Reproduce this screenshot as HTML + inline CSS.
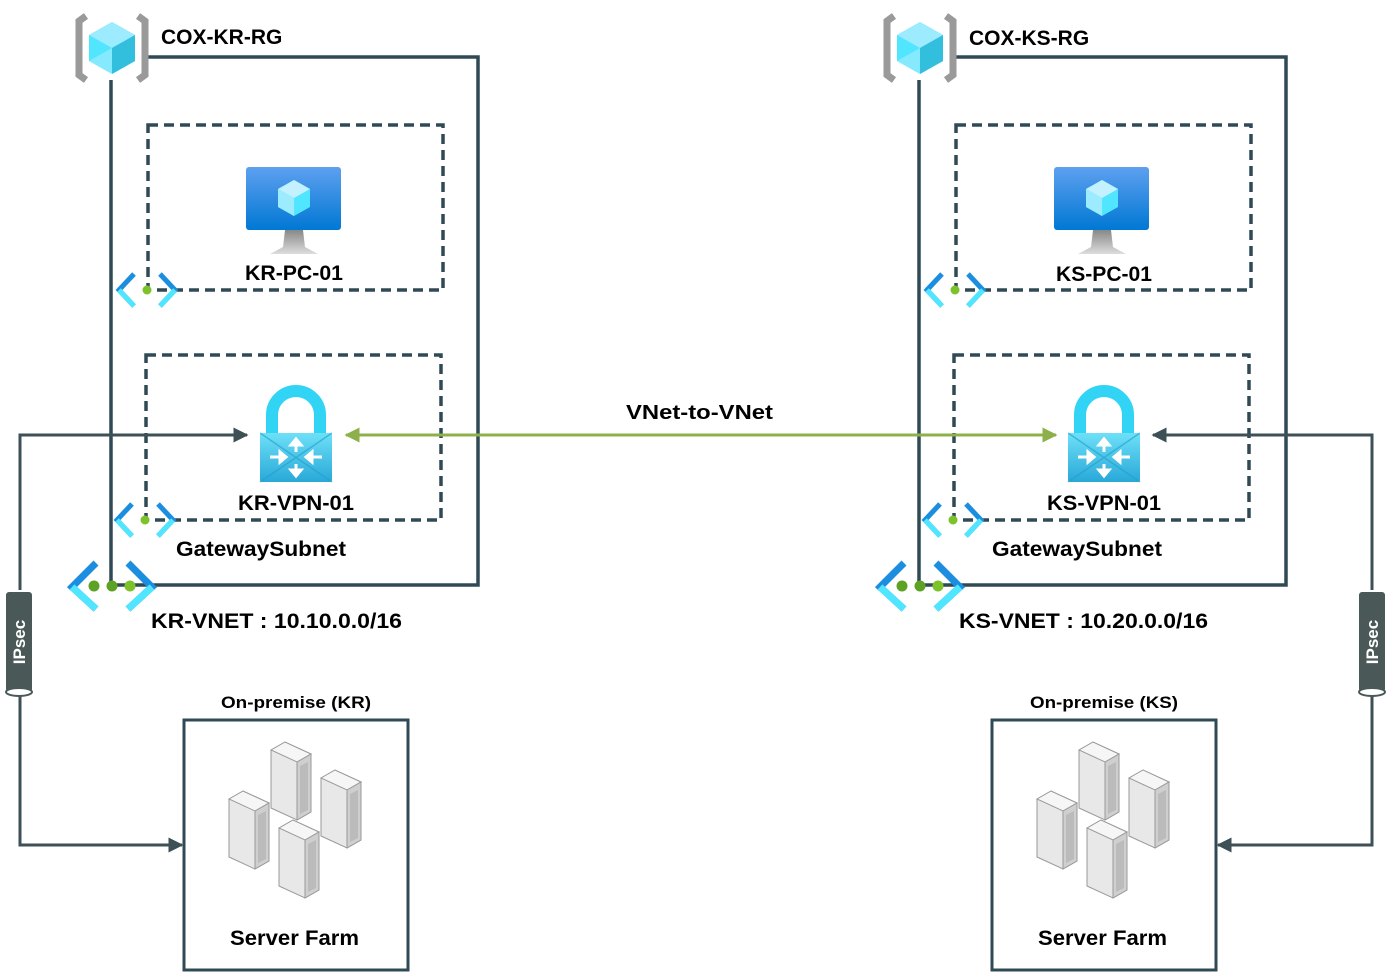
<!DOCTYPE html>
<html><head><meta charset="utf-8"><style>
html,body{margin:0;padding:0;background:#fff;}
svg{display:block;}
text{font-family:"Liberation Sans",sans-serif;font-weight:bold;fill:#000;}
</style></head><body>
<svg width="1389" height="977" viewBox="0 0 1389 977" xmlns="http://www.w3.org/2000/svg">
<defs>
<linearGradient id="mon" x1="0" y1="0" x2="0" y2="1"><stop offset="0" stop-color="#5ea0ef"/><stop offset="1" stop-color="#0078d4"/></linearGradient>
<linearGradient id="stand" x1="0" y1="0" x2="0" y2="1"><stop offset="0" stop-color="#888"/><stop offset="1" stop-color="#ddd"/></linearGradient>
<linearGradient id="lockb" x1="0" y1="0" x2="0" y2="1"><stop offset="0" stop-color="#6ee0f8"/><stop offset="1" stop-color="#29a8d8"/></linearGradient>
<marker id="ad" viewBox="0 0 10 10" refX="9" refY="5" markerWidth="5" markerHeight="5" orient="auto-start-reverse"><path d="M0,0 L10,5 L0,10 z" fill="#3d5055"/></marker>
<marker id="ag" viewBox="0 0 10 10" refX="9" refY="5" markerWidth="5" markerHeight="5" orient="auto-start-reverse"><path d="M0,0 L10,5 L0,10 z" fill="#8db04a"/></marker>
<g id="rgicon">
  <path d="M86,16 L79,21 L79,75 L86,80" fill="none" stroke="#9a9a9a" stroke-width="7"/>
  <path d="M138,16 L145,21 L145,75 L138,80" fill="none" stroke="#9a9a9a" stroke-width="7"/>
  <path d="M112,22 L135,35 L135,61 L112,74 L89,61 L89,35 z" fill="#50e6ff"/>
  <path d="M112,22 L135,35 L112,48 L89,35 z" fill="#9cebff"/>
  <path d="M112,48 L135,35 L135,61 L112,74 z" fill="#32bedd"/>
  <path d="M112,48 L112,74 L89,61 z" fill="#9cebff" opacity="0.7"/>
</g>
<g id="vm">
  <rect x="246" y="167" width="95" height="63" rx="3" fill="url(#mon)"/>
  <path d="M285,230 L303,230 L305,247 L318,254 L270,254 L283,247 z" fill="url(#stand)"/>
  <path d="M294,180 L310,189 L310,207 L294,216 L278,207 L278,189 z" fill="#50e6ff"/>
  <path d="M294,180 L310,189 L294,198 L278,189 z" fill="#c3f1ff"/>
  <path d="M294,198 L294,216 L278,207 L278,189 z" fill="#9cebff"/>
</g>
<g id="lock">
  <path d="M272,434 L272,415 A24,24 0 0 1 320,415 L320,434" fill="none" stroke="#32d4f5" stroke-width="12"/>
  <rect x="260" y="433" width="72" height="49" rx="2" fill="url(#lockb)"/>
  <path d="M260,433 L332,482 M332,433 L260,482" stroke="#1fa0cc" stroke-width="1.5" opacity="0.6"/>
  <g stroke="#fff" stroke-width="3" fill="#fff">
    <path d="M296,441 L296,452"/><path d="M291,445 L296,439 L301,445 z"/>
    <path d="M296,464 L296,474"/><path d="M291,470 L296,476 L301,470 z"/>
    <path d="M270,457 L282,457"/><path d="M280,452 L286,457 L280,462 z"/>
    <path d="M310,457 L322,457"/><path d="M312,452 L306,457 L312,462 z"/>
  </g>
</g>
<g id="sub">
  <path d="M-13,-16 L-28,0 L-13,16" fill="none" stroke="#1b8ee0" stroke-width="5"/>
  <path d="M-28,0 L-13,16" fill="none" stroke="#50e6ff" stroke-width="5"/>
  <path d="M13,-16 L28,0 L13,16" fill="none" stroke="#1b8ee0" stroke-width="5"/>
  <path d="M28,0 L13,16" fill="none" stroke="#50e6ff" stroke-width="5"/>
  <circle cx="0" cy="0" r="4.5" fill="#7cc22b"/>
</g>
<g id="vnet">
  <path d="M96,563 L72,587 L96,609" fill="none" stroke="#1b8ee0" stroke-width="7"/>
  <path d="M72,587 L96,609" fill="none" stroke="#50e6ff" stroke-width="7"/>
  <path d="M128,563 L152,587 L128,609" fill="none" stroke="#1b8ee0" stroke-width="7"/>
  <path d="M152,587 L128,609" fill="none" stroke="#50e6ff" stroke-width="7"/>
  <circle cx="94" cy="586" r="5.5" fill="#5ea225"/>
  <circle cx="112" cy="586" r="5.5" fill="#5ea225"/>
  <circle cx="130" cy="586" r="5.5" fill="#7cc22b"/>
</g>
<g id="rack">
  <path d="M0,8 L14,0 L40,12 L40,70 L26,78 L0,66 z" fill="#e8e8e8" stroke="#999" stroke-width="1"/>
  <path d="M0,8 L14,0 L40,12 L26,20 z" fill="#f6f6f6" stroke="#999" stroke-width="1"/>
  <path d="M26,20 L40,12 L40,70 L26,78 z" fill="#cfcfcf" stroke="#999" stroke-width="1"/>
  <path d="M29,24 L37,20 L37,68 L29,72 z" fill="#bbb"/>
</g>
<g id="farm">
  <use href="#rack" x="229" y="791"/>
  <use href="#rack" x="271" y="742"/>
  <use href="#rack" x="321" y="770"/>
  <use href="#rack" x="279" y="820"/>
</g>
<g id="side">
  <path d="M148,57 L478,57 L478,585 L111,585 L111,80" fill="none" stroke="#2f4a55" stroke-width="3.5"/>
  <rect x="148" y="125" width="295" height="165" fill="none" stroke="#2f4a55" stroke-width="3.5" stroke-dasharray="10,6"/>
  <rect x="146" y="355" width="295" height="165" fill="none" stroke="#2f4a55" stroke-width="3.5" stroke-dasharray="10,6"/>
  <use href="#rgicon"/>
  <use href="#vm"/>
  <use href="#lock"/>
  <use href="#sub" x="147" y="290"/>
  <use href="#sub" x="145" y="520"/>
  <use href="#vnet"/>
  <rect x="184" y="720" width="224" height="250" fill="none" stroke="#2f4a55" stroke-width="3"/>
  <use href="#farm"/>
</g>
<g id="cyl">
  <rect x="6" y="592" width="26" height="100" rx="3" fill="#4a5857"/>
  <ellipse cx="19" cy="692" rx="13" ry="4" fill="#fff" stroke="#4a5857" stroke-width="2"/>
</g>
</defs>

<use href="#side"/>
<use href="#side" x="808"/>

<path d="M20,590 L20,435 L247,435" fill="none" stroke="#3d5055" stroke-width="3" marker-end="url(#ad)"/>
<path d="M20,695 L20,845 L182,845" fill="none" stroke="#3d5055" stroke-width="3" marker-end="url(#ad)"/>
<use href="#cyl"/>
<text transform="translate(25,642) rotate(-90)" text-anchor="middle" font-size="17" style="fill:#fff">IPsec</text>
<path d="M1372,590 L1372,435 L1153,435" fill="none" stroke="#3d5055" stroke-width="3" marker-end="url(#ad)"/>
<path d="M1372,695 L1372,845 L1218,845" fill="none" stroke="#3d5055" stroke-width="3" marker-end="url(#ad)"/>
<use href="#cyl" x="1353"/>
<text transform="translate(1378,642) rotate(-90)" text-anchor="middle" font-size="17" style="fill:#fff">IPsec</text>
<path d="M346,435 L1056,435" fill="none" stroke="#8db04a" stroke-width="3" marker-start="url(#ag)" marker-end="url(#ag)"/>
<text x="626" y="419" font-size="20" textLength="147" lengthAdjust="spacingAndGlyphs">VNet-to-VNet</text>

<text x="161" y="44" font-size="21">COX-KR-RG</text>
<text x="969" y="45" font-size="21">COX-KS-RG</text>
<text x="245" y="280" font-size="21" textLength="98" lengthAdjust="spacingAndGlyphs">KR-PC-01</text>
<text x="1056" y="281" font-size="21" textLength="96" lengthAdjust="spacingAndGlyphs">KS-PC-01</text>
<text x="238" y="510" font-size="21" textLength="116" lengthAdjust="spacingAndGlyphs">KR-VPN-01</text>
<text x="1047" y="510" font-size="21" textLength="114" lengthAdjust="spacingAndGlyphs">KS-VPN-01</text>
<text x="176" y="556" font-size="21" textLength="170" lengthAdjust="spacingAndGlyphs">GatewaySubnet</text>
<text x="992" y="556" font-size="21" textLength="170" lengthAdjust="spacingAndGlyphs">GatewaySubnet</text>
<text x="151" y="628" font-size="21" textLength="251" lengthAdjust="spacingAndGlyphs">KR-VNET : 10.10.0.0/16</text>
<text x="959" y="628" font-size="21" textLength="249" lengthAdjust="spacingAndGlyphs">KS-VNET : 10.20.0.0/16</text>
<text x="221" y="708" font-size="17" textLength="150" lengthAdjust="spacingAndGlyphs">On-premise (KR)</text>
<text x="1030" y="708" font-size="17" textLength="148" lengthAdjust="spacingAndGlyphs">On-premise (KS)</text>
<text x="230" y="945" font-size="21" textLength="129" lengthAdjust="spacingAndGlyphs">Server Farm</text>
<text x="1038" y="945" font-size="21" textLength="129" lengthAdjust="spacingAndGlyphs">Server Farm</text>
</svg>
</body></html>
